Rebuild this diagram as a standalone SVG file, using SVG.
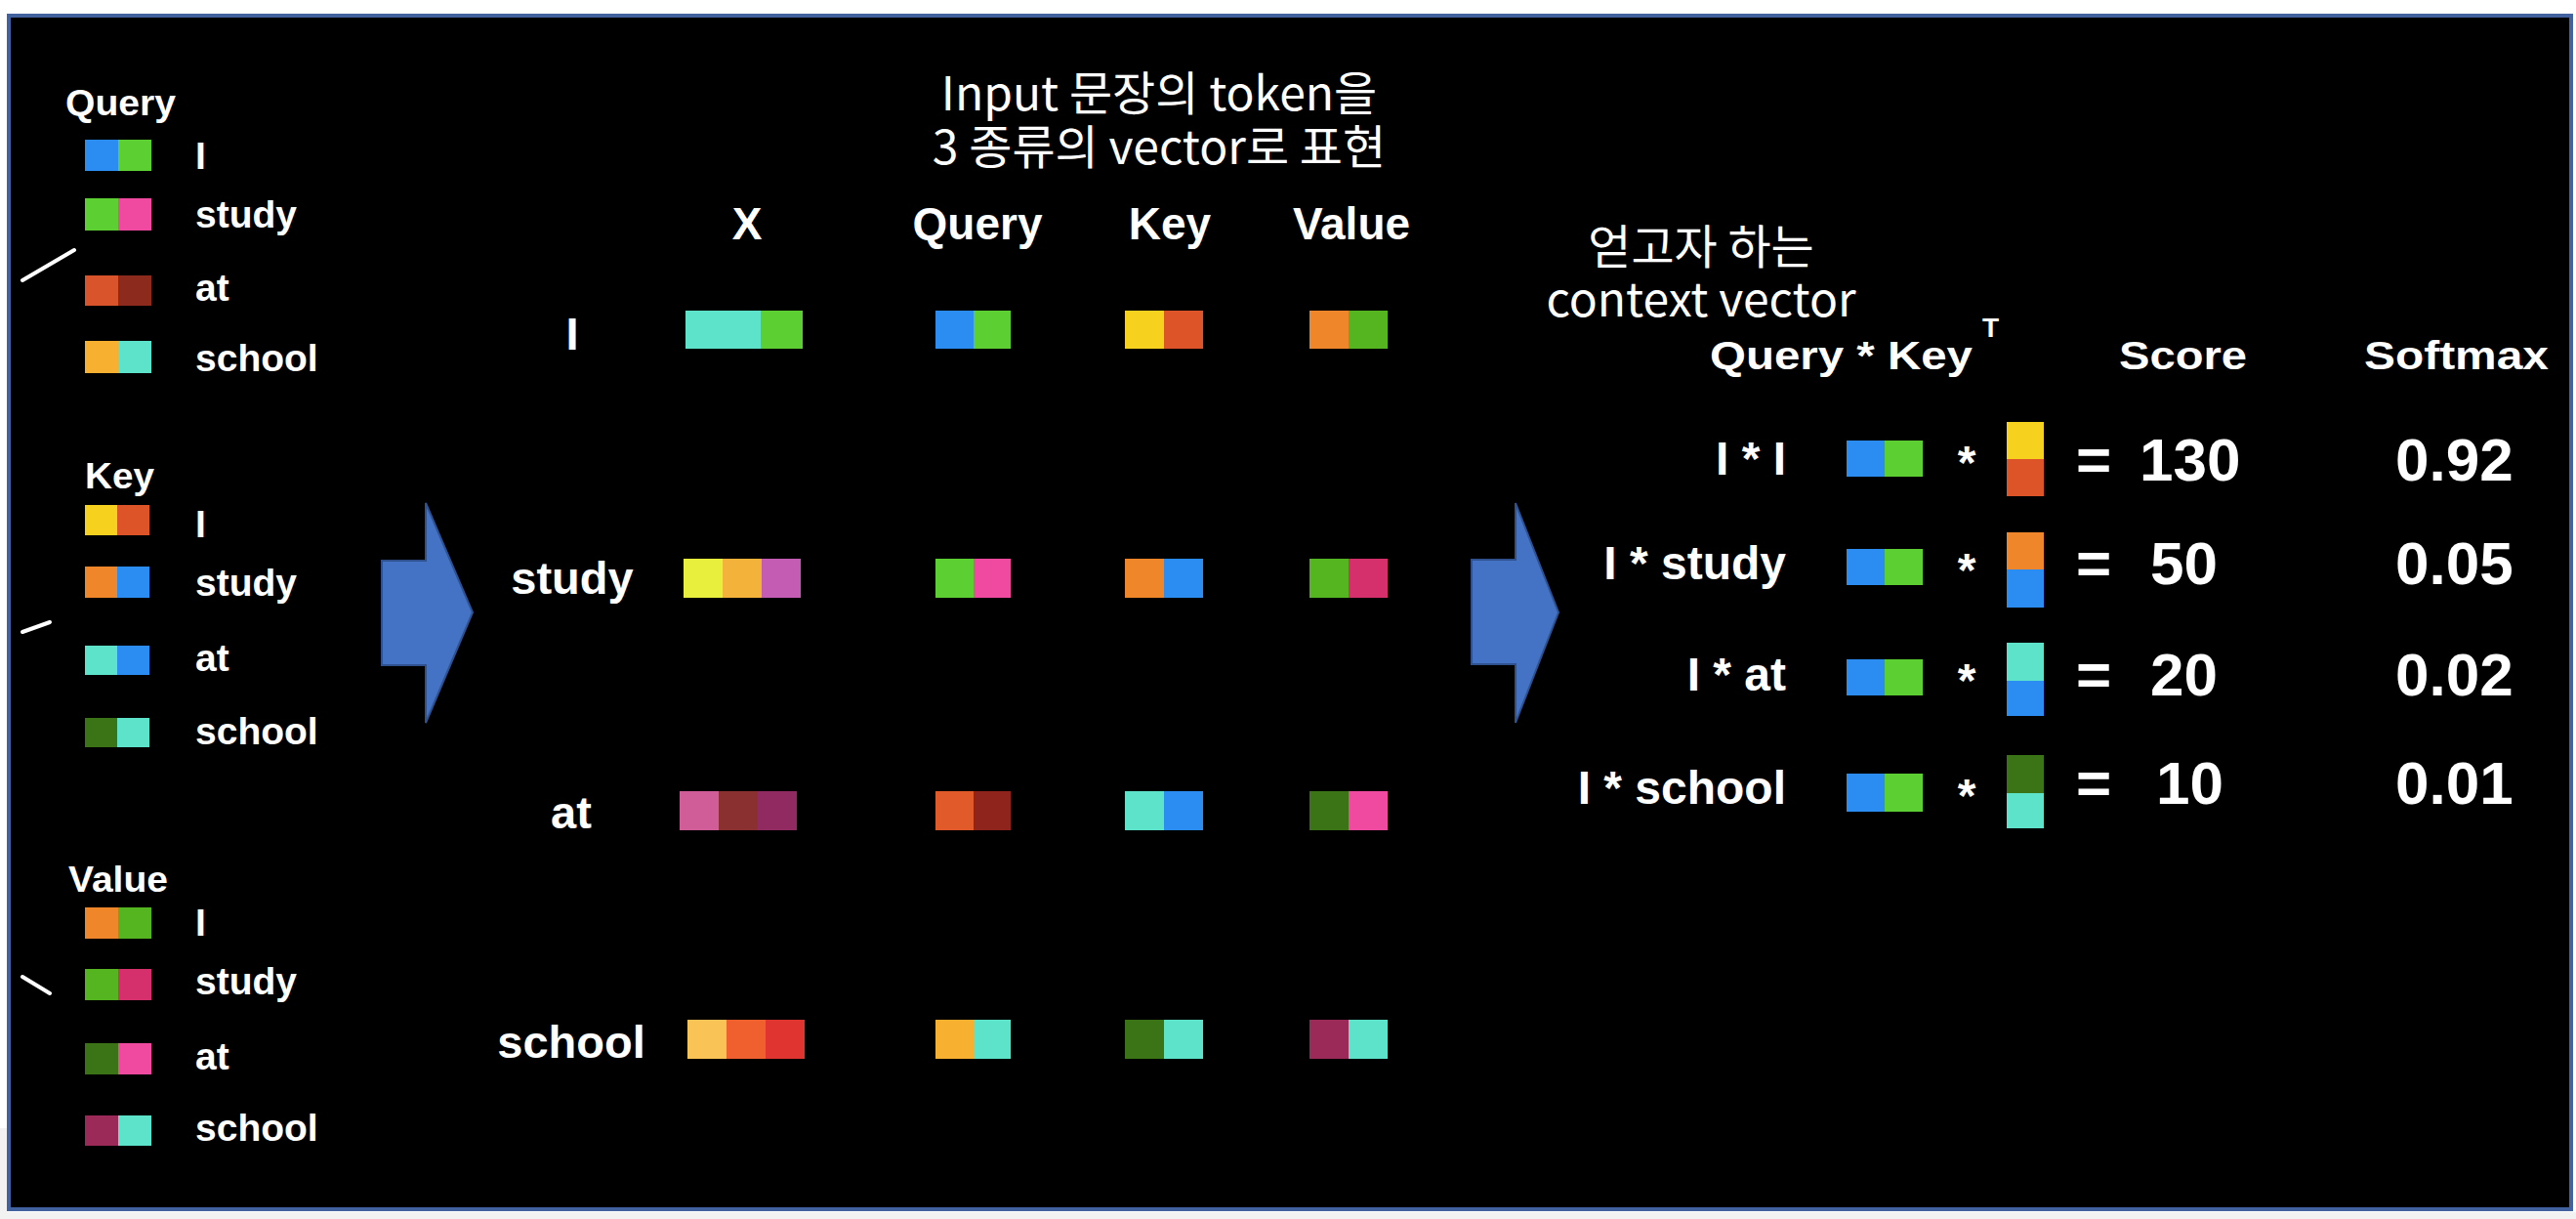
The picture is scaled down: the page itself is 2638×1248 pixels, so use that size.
<svg xmlns="http://www.w3.org/2000/svg" width="2638" height="1248" viewBox="0 0 2638 1248">
<style>
.b{font-family:"Liberation Sans",Arial,Helvetica,sans-serif;font-weight:bold;fill:#ffffff}
.k{font-family:"Noto Sans CJK KR","Noto Sans",sans-serif;font-size:48px;fill:#ffffff}
.lh{font-size:36px}
.li{font-size:39px}
.mh{font-size:46px;text-anchor:middle}
.ml{font-size:47px;text-anchor:middle}
.rh{font-size:40px}
.rl{font-size:48px;text-anchor:end}
.rn{font-size:62px}
.st{font-size:48px;text-anchor:middle}
.tick{stroke:#ffffff;stroke-width:4;stroke-linecap:round}
.arrow{fill:#4472c4;stroke:#2f528f;stroke-width:2}
</style>
<rect x="0" y="0" width="2638" height="1248" fill="#ffffff"/>
<rect x="0" y="1241" width="2638" height="7" fill="#f2f2f2"/>
<rect x="0" y="1155" width="7" height="93" fill="#f2f2f2"/>
<rect id="frame" x="9" y="16" width="2624" height="1222" fill="#000000" stroke="#41619f" stroke-width="4"/>

<g id="legend-query">
<text class="b lh" x="67" y="118" textLength="113" lengthAdjust="spacingAndGlyphs">Query</text>
<rect x="87" y="143" width="34" height="32" fill="#2b8cf2"/><rect x="121" y="143" width="34" height="32" fill="#5ccf33"/>
<text class="b li" x="200" y="173">I</text>
<rect x="87" y="203" width="34" height="33" fill="#5ccf33"/><rect x="121" y="203" width="34" height="33" fill="#ef4a9f"/>
<text class="b li" x="200" y="233">study</text>
<rect x="87" y="282" width="34" height="31" fill="#d9542a"/><rect x="121" y="282" width="34" height="31" fill="#8c2a1e"/>
<text class="b li" x="200" y="308">at</text>
<rect x="87" y="349" width="34" height="33" fill="#f7b02f"/><rect x="121" y="349" width="34" height="33" fill="#5ee3cb"/>
<text class="b li" x="200" y="380">school</text>
<line class="tick" x1="23" y1="287" x2="76" y2="256"/>
</g>

<g id="legend-key">
<text class="b lh" x="87" y="500" textLength="71" lengthAdjust="spacingAndGlyphs">Key</text>
<rect x="87" y="517" width="33" height="31" fill="#f6d21f"/><rect x="120" y="517" width="33" height="31" fill="#dd5428"/>
<text class="b li" x="200" y="550">I</text>
<rect x="87" y="580" width="33" height="32" fill="#f0862a"/><rect x="120" y="580" width="33" height="32" fill="#2b8cf2"/>
<text class="b li" x="200" y="610">study</text>
<rect x="87" y="661" width="33" height="30" fill="#5ee3cb"/><rect x="120" y="661" width="33" height="30" fill="#2b8cf2"/>
<text class="b li" x="200" y="687">at</text>
<rect x="87" y="735" width="33" height="30" fill="#3b7416"/><rect x="120" y="735" width="33" height="30" fill="#5ee3cb"/>
<text class="b li" x="200" y="762">school</text>
<line class="tick" x1="23" y1="647" x2="51" y2="637"/>
</g>

<g id="legend-value">
<text class="b lh" x="70" y="913" textLength="102" lengthAdjust="spacingAndGlyphs">Value</text>
<rect x="87" y="929" width="34" height="32" fill="#f0862a"/><rect x="121" y="929" width="34" height="32" fill="#55b520"/>
<text class="b li" x="200" y="958">I</text>
<rect x="87" y="992" width="34" height="32" fill="#55b520"/><rect x="121" y="992" width="34" height="32" fill="#d5306c"/>
<text class="b li" x="200" y="1018">study</text>
<rect x="87" y="1068" width="34" height="32" fill="#3b7416"/><rect x="121" y="1068" width="34" height="32" fill="#ef4a9f"/>
<text class="b li" x="200" y="1095">at</text>
<rect x="87" y="1142" width="34" height="31" fill="#9b2a58"/><rect x="121" y="1142" width="34" height="31" fill="#5ee3cb"/>
<text class="b li" x="200" y="1168">school</text>
<line class="tick" x1="23" y1="1000" x2="51" y2="1017"/>
</g>

<g id="title-input">
<text class="k" x="1187" y="113" text-anchor="middle">Input 문장의 token을</text>
<text class="k" x="1187" y="168" text-anchor="middle">3 종류의 vector로 표현</text>
</g>

<g id="column-headers">
<text class="b mh" x="765" y="245">X</text>
<text class="b mh" x="1001" y="245">Query</text>
<text class="b mh" x="1198" y="245">Key</text>
<text class="b mh" x="1384" y="245">Value</text>
</g>

<g id="row-I">
<text class="b ml" x="586" y="358">I</text>
<rect x="702" y="318" width="77" height="39" fill="#5ee3cb"/><rect x="779" y="318" width="43" height="39" fill="#5ccf33"/>
<rect x="958" y="318" width="39" height="39" fill="#2b8cf2"/><rect x="997" y="318" width="38" height="39" fill="#5ccf33"/>
<rect x="1152" y="318" width="40" height="39" fill="#f6d21f"/><rect x="1192" y="318" width="40" height="39" fill="#dd5428"/>
<rect x="1341" y="318" width="40" height="39" fill="#f0862a"/><rect x="1381" y="318" width="40" height="39" fill="#55b520"/>
</g>

<g id="row-study">
<text class="b ml" x="586" y="608">study</text>
<rect x="700" y="572" width="40" height="40" fill="#e8ef3c"/><rect x="740" y="572" width="40" height="40" fill="#f3b23a"/><rect x="780" y="572" width="40" height="40" fill="#c45cb4"/>
<rect x="958" y="572" width="39" height="40" fill="#5ccf33"/><rect x="997" y="572" width="38" height="40" fill="#ef4a9f"/>
<rect x="1152" y="572" width="40" height="40" fill="#f0862a"/><rect x="1192" y="572" width="40" height="40" fill="#2b8cf2"/>
<rect x="1341" y="572" width="40" height="40" fill="#55b520"/><rect x="1381" y="572" width="40" height="40" fill="#d5306c"/>
</g>

<g id="row-at">
<text class="b ml" x="585" y="848">at</text>
<rect x="696" y="810" width="40" height="40" fill="#d05c98"/><rect x="736" y="810" width="40" height="40" fill="#8a3030"/><rect x="776" y="810" width="40" height="40" fill="#922a62"/>
<rect x="958" y="810" width="39" height="40" fill="#e05a2a"/><rect x="997" y="810" width="38" height="40" fill="#8f241c"/>
<rect x="1152" y="810" width="40" height="40" fill="#5ee3cb"/><rect x="1192" y="810" width="40" height="40" fill="#2b8cf2"/>
<rect x="1341" y="810" width="40" height="40" fill="#3b7416"/><rect x="1381" y="810" width="40" height="40" fill="#ef4a9f"/>
</g>

<g id="row-school">
<text class="b ml" x="585" y="1083">school</text>
<rect x="704" y="1044" width="40" height="40" fill="#f9c356"/><rect x="744" y="1044" width="40" height="40" fill="#f0602e"/><rect x="784" y="1044" width="40" height="40" fill="#e03430"/>
<rect x="958" y="1044" width="39" height="40" fill="#f7b02f"/><rect x="997" y="1044" width="38" height="40" fill="#5ee3cb"/>
<rect x="1152" y="1044" width="40" height="40" fill="#3b7416"/><rect x="1192" y="1044" width="40" height="40" fill="#5ee3cb"/>
<rect x="1341" y="1044" width="40" height="40" fill="#9b2a58"/><rect x="1381" y="1044" width="40" height="40" fill="#5ee3cb"/>
</g>

<g id="title-context">
<text class="k" x="1742" y="270" text-anchor="middle">얻고자 하는</text>
<text class="k" x="1742" y="324" text-anchor="middle">context vector</text>
</g>

<g id="score-headers">
<text class="b rh" x="1751" y="378" textLength="269" lengthAdjust="spacingAndGlyphs">Query * Key</text>
<text class="b" x="2030" y="345" font-size="28">T</text>
<text class="b rh" x="2170" y="378" textLength="131" lengthAdjust="spacingAndGlyphs">Score</text>
<text class="b rh" x="2421" y="378" textLength="189" lengthAdjust="spacingAndGlyphs">Softmax</text>
</g>

<g id="score-I-I">
<text class="b rl" x="1829" y="486">I * I</text>
<rect x="1891" y="451" width="39" height="37" fill="#2b8cf2"/><rect x="1930" y="451" width="39" height="37" fill="#5ccf33"/>
<text class="b st" x="2014" y="490">*</text>
<rect x="2055" y="432" width="38" height="38" fill="#f6d21f"/><rect x="2055" y="470" width="38" height="38" fill="#dd5428"/>
<text class="b rn" x="2126" y="492">=</text>
<text class="b rn" x="2191" y="492">130</text>
<text class="b rn" x="2453" y="492">0.92</text>
</g>

<g id="score-I-study">
<text class="b rl" x="1829" y="593">I * study</text>
<rect x="1891" y="562" width="39" height="37" fill="#2b8cf2"/><rect x="1930" y="562" width="39" height="37" fill="#5ccf33"/>
<text class="b st" x="2014" y="600">*</text>
<rect x="2055" y="545" width="38" height="38" fill="#f0862a"/><rect x="2055" y="583" width="38" height="39" fill="#2b8cf2"/>
<text class="b rn" x="2126" y="598">=</text>
<text class="b rn" x="2202" y="598">50</text>
<text class="b rn" x="2453" y="598">0.05</text>
</g>

<g id="score-I-at">
<text class="b rl" x="1829" y="707">I * at</text>
<rect x="1891" y="675" width="39" height="37" fill="#2b8cf2"/><rect x="1930" y="675" width="39" height="37" fill="#5ccf33"/>
<text class="b st" x="2014" y="713">*</text>
<rect x="2055" y="658" width="38" height="39" fill="#5ee3cb"/><rect x="2055" y="697" width="38" height="36" fill="#2b8cf2"/>
<text class="b rn" x="2126" y="712">=</text>
<text class="b rn" x="2202" y="712">20</text>
<text class="b rn" x="2453" y="712">0.02</text>
</g>

<g id="score-I-school">
<text class="b rl" x="1829" y="823">I * school</text>
<rect x="1891" y="792" width="39" height="39" fill="#2b8cf2"/><rect x="1930" y="792" width="39" height="39" fill="#5ccf33"/>
<text class="b st" x="2014" y="831">*</text>
<rect x="2055" y="773" width="38" height="39" fill="#3b7416"/><rect x="2055" y="812" width="38" height="36" fill="#5ee3cb"/>
<text class="b rn" x="2126" y="823">=</text>
<text class="b rn" x="2208" y="823">10</text>
<text class="b rn" x="2453" y="823">0.01</text>
</g>

<g id="connectors">
<polygon class="arrow" points="391,574 436,574 436,515 484,627 436,740 436,681 391,681"/>
<polygon class="arrow" points="1507,573 1552,573 1552,515 1596,627 1552,740 1552,680 1507,680"/>
</g>
</svg>
